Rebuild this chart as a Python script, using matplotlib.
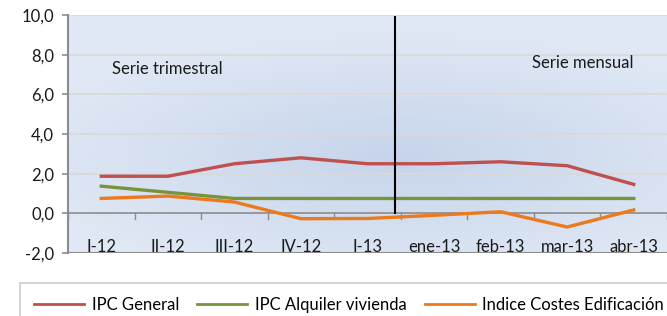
import matplotlib
matplotlib.use("Agg")
import matplotlib.pyplot as plt
import numpy as np

categories = ["I-12", "II-12", "III-12", "IV-12", "I-13", "ene-13", "feb-13", "mar-13", "abr-13"]
ipc_general = [1.87, 1.87, 2.5, 2.8, 2.5, 2.5, 2.6, 2.4, 1.46]
ipc_alquiler = [1.37, 1.06, 0.75, 0.75, 0.75, 0.75, 0.75, 0.75, 0.75]
indice_costes = [0.75, 0.87, 0.57, -0.27, -0.26, -0.1, 0.08, -0.69, 0.17]
yticks = [-2, 0, 2, 4, 6, 8, 10]
ytick_labels = ["-2,0", "0,0", "2,0", "4,0", "6,0", "8,0", "10,0"]
series_names = ["IPC General", "IPC Alquiler vivienda", "Indice Costes Edificación"]
colors = ["#c0504d", "#77933c", "#ec7a1c"]
divider_pos = 4.42

plt.rcParams['font.family'] = ['Lato', 'DejaVu Sans']
FS = 12

fig = plt.figure(figsize=(6.67, 3.16), dpi=100)
ax = fig.add_axes([68/667, 63/316, 599/667, 238/316])
x = np.arange(len(categories))
ax.set_xlim(-0.5, len(categories) - 0.5)
ax.set_ylim(-2, 10)

# gradient background
nx, ny = 200, 100
gx = np.linspace(0, 1, nx)
gy = np.linspace(0, 1, ny)
GX, GY = np.meshgrid(gx, gy)
d = np.clip(1 - np.hypot(GX - 0.55, (GY - 0.4) * 1.2) / 0.65, 0, 1)
c_light = np.array([0.878, 0.910, 0.957])
c_dark = np.array([0.776, 0.831, 0.922])
img = c_light[None, None, :] * (1 - d[..., None]) + c_dark[None, None, :] * d[..., None]
ax.imshow(img, extent=[-0.5, len(categories) - 0.5, -2, 10], aspect='auto', zorder=0, origin='lower')

# gridlines
for yv in yticks[2:]:
    ax.axhline(yv, color="#d9d9d9", lw=1.2, zorder=1)
ax.axhline(0, color="#8c8c8c", lw=1.2, zorder=2)
ax.axhline(-2, color="#8c8c8c", lw=1.5, zorder=2)

# category tick marks at boundaries
for b in np.arange(len(categories) + 1) - 0.5:
    ax.plot([b, b], [0, -0.28], color="#8c8c8c", lw=1.0, zorder=2)

for vals, col, name in zip([ipc_general, ipc_alquiler, indice_costes], colors, series_names):
    ax.plot(x, vals, color=col, lw=2.4, label=name, zorder=4, solid_joinstyle='round')

ax.plot([divider_pos, divider_pos], [0, 9.9], color="black", lw=1.5, zorder=5)

for xi, lab in zip(x, categories):
    ax.text(xi, -1.7, lab, ha='center', va='center', fontsize=FS, color='#1a1a1a', zorder=6)

ax.text(0.16, 7.3, "Serie trimestral", fontsize=FS, color='#1a1a1a', va='center', ha='left')
ax.text(7.23, 7.56, "Serie mensual", fontsize=FS, color='#1a1a1a', va='center', ha='center')

ax.set_xticks([])
ax.set_yticks(yticks)
ax.set_yticklabels(ytick_labels, fontsize=FS, color='#1a1a1a')
ax.tick_params(axis='y', length=4, color='#8c8c8c', width=1.2, pad=6)
for s in ['top', 'right', 'bottom']:
    ax.spines[s].set_visible(False)
ax.spines['left'].set_color('#8c8c8c')
ax.spines['left'].set_linewidth(1.5)

leg = fig.legend(loc='upper left', bbox_to_anchor=(20/667, 33/316),
                 ncol=3, fontsize=FS, frameon=True, fancybox=False, handlelength=3.0,
                 borderaxespad=0, borderpad=0.85, columnspacing=1.1, handletextpad=0.45)
leg.get_frame().set_edgecolor('#bfbfbf')
leg.get_frame().set_linewidth(1.2)
for h in leg.get_lines():
    h.set_linewidth(2.0)

fig.savefig("out.png", dpi=100)
